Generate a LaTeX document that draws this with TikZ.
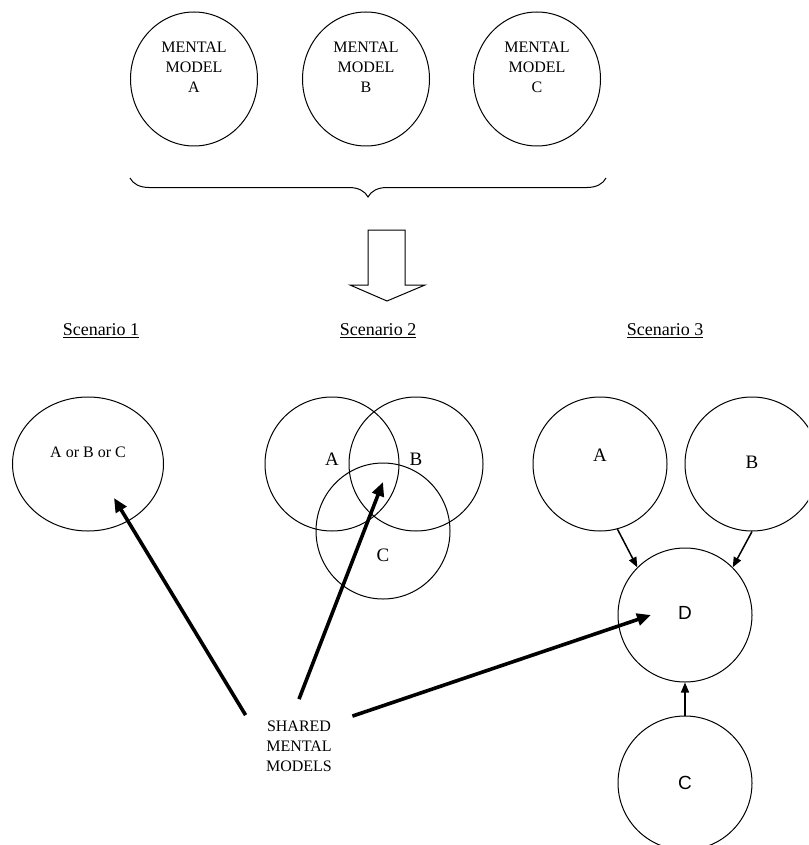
\documentclass[tikz,border=0pt]{standalone}
\usepackage{fontspec}
\setmainfont{Liberation Serif}
\newfontfamily\arialfont{Liberation Sans}
\usetikzlibrary{arrows.meta,shapes.geometric,decorations.pathreplacing}

\begin{document}
\begin{tikzpicture}[x=1pt,y=-1pt]
	\tikzset{every node/.style={font=\fontsize{16}{20}\selectfont,align=center}}
	\tikzset{model/.style={draw,ellipse,line width=1pt,inner sep=0pt,minimum width=134pt,minimum height=134pt}}
	\tikzset{scen/.style={font=\fontsize{18}{22}\selectfont}}
	\tikzset{big/.style={font=\fontsize{19}{22}\selectfont}}
	\tikzset{sans/.style={font=\fontsize{19}{22}\selectfont\arialfont}}
	\tikzset{bigarrow/.style={line width=3.6pt,-{Triangle[length=14pt,width=12pt]}}}
	\tikzset{smallarrow/.style={line width=1.5pt,-{Triangle[length=10pt,width=8pt]}}}
	\clip (0,0) rectangle (808,845);
	% the three mental models
	\node[model,minimum width=127pt] (mmA) at (194,79) {};
	\node[model,minimum width=127pt] (mmB) at (366,79) {};
	\node[model,minimum width=127pt] (mmC) at (537,79) {};
	\node at ([yshift=12pt]mmA.center) {MENTAL\\MODEL\\A};
	\node at ([yshift=12pt]mmB.center) {MENTAL\\MODEL\\B};
	\node at ([yshift=12pt]mmC.center) {MENTAL\\MODEL\\C};
	\draw[line width=1pt,decorate,decoration={brace,mirror,amplitude=19pt}] (130,178) -- (606,178);
	\draw[line width=1pt] (368,230) -- (405,230) -- (405,285) -- (425,285) -- (387,301) -- (350,285) -- (368,285) -- cycle;
	% scenarios
	\node[scen] (sc1) at (101,331) {\underline{Scenario 1}};
	\node[scen] (sc2) at (378,331) {\underline{Scenario 2}};
	\node[scen] (sc3) at (665,331) {\underline{Scenario 3}};
	\node[model,minimum width=151pt] (one) at (88,464) {};
	\node at ([yshift=12pt]one.center) {A or B or C};
	\node[model] (twoA) at (332,464) {};
	\node[model] (twoB) at (416,464) {};
	\node[model,minimum height=136pt] (twoC) at (383,531) {};
	\node[big] at ([yshift=5pt]twoA.center) {A};
	\node[big] at ([yshift=5pt]twoB.center) {B};
	\node[big] at ([yshift=-24pt]twoC.center) {C};
	\node[model] (thrA) at (600,464) {};
	\node[model] (thrB) at (752,464) {};
	\node[model] (thrD) at (685,615) {};
	\node[model] (thrC) at (685,783) {};
	\node[big] at ([yshift=9pt]thrA.center) {A};
	\node[big] at ([yshift=2pt]thrB.center) {B};
	\node[sans] at ([yshift=2pt]thrD.center) {D};
	\node[sans] at (thrC.center) {C};
	\draw[smallarrow] (thrA.-75) -- (thrD.135);
	\draw[smallarrow] (thrB.south) -- (thrD.45);
	\draw[smallarrow] (thrC.north) -- (thrD.south);
	% shared mental models
	\node (shared) at (299,746) {SHARED\\MENTAL\\MODELS};
	\coordinate (tip1) at (114,498);
	\coordinate (tip2) at (383,482);
	\coordinate (tip3) at ([xshift=-34pt]thrD.center);
	\draw[bigarrow] ([xshift=-17pt,yshift=2pt]shared.north west) -- (tip1);
	\draw[bigarrow] ([yshift=18pt]shared.north) -- (tip2);
	\draw[bigarrow] ([xshift=17pt,yshift=1pt]shared.north east) -- (tip3);
\end{tikzpicture}
\end{document}
